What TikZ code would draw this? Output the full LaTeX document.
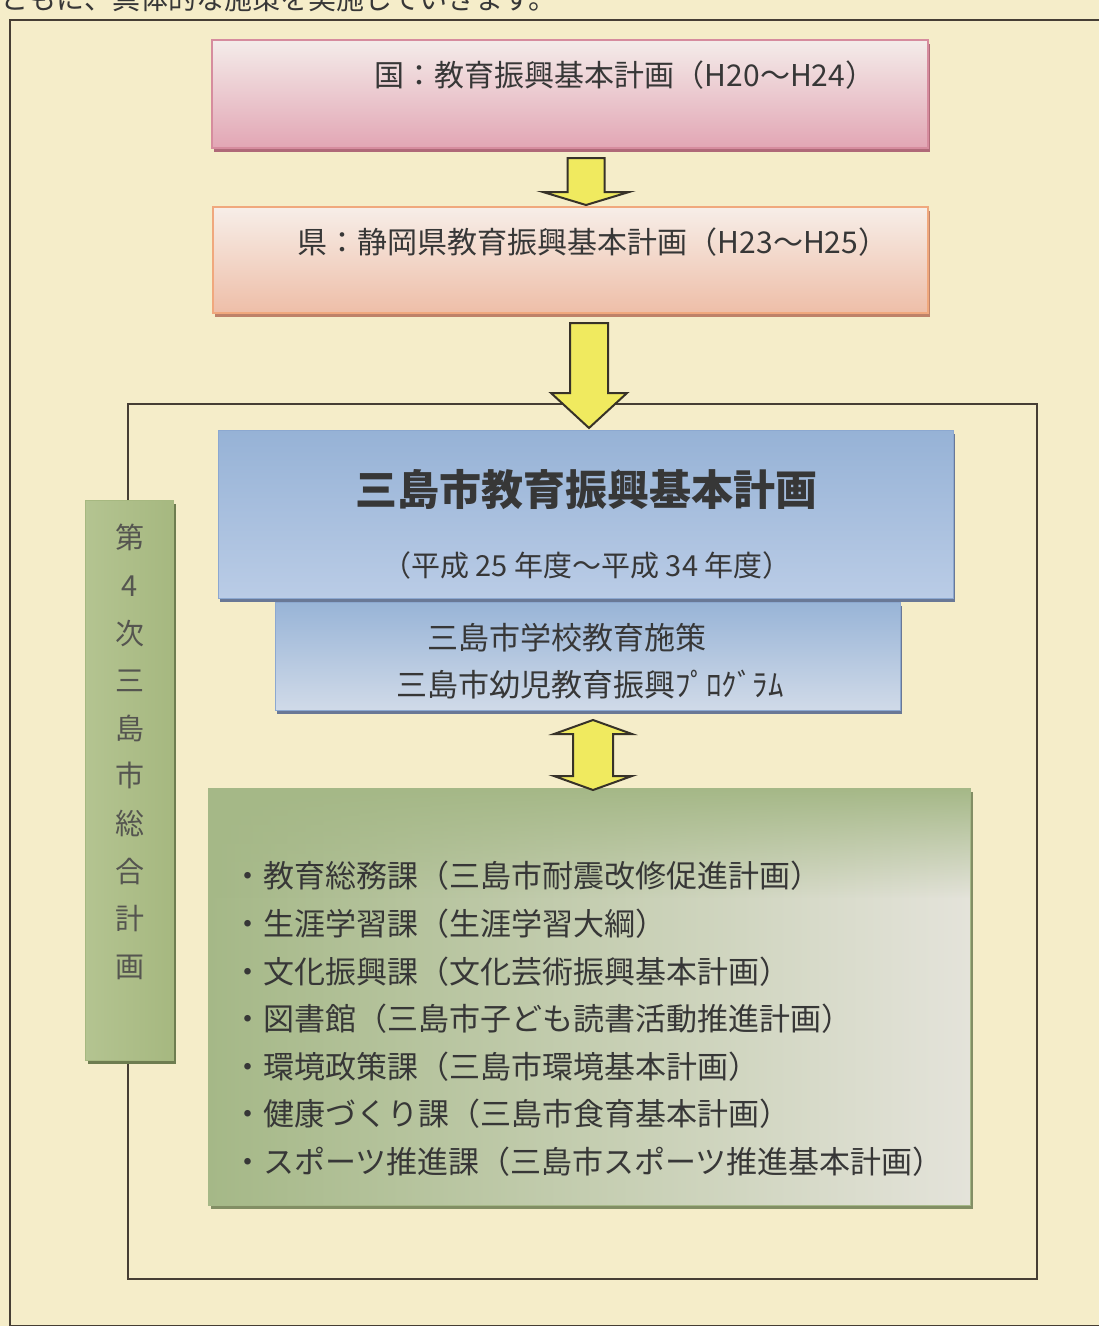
\documentclass[tikz,border=0pt]{standalone}
\usepackage{fontspec}
\setmainfont{Noto Sans CJK JP}
\usetikzlibrary{calc,fadings,shadows}

\definecolor{bg}{RGB}{245,237,201}
\definecolor{framec}{RGB}{70,62,52}
\definecolor{txt}{RGB}{55,55,55}
\definecolor{vtxt}{RGB}{85,85,80}
\definecolor{pinkT}{RGB}{244,236,234}
\definecolor{pinkB}{RGB}{226,166,180}
\definecolor{pinkBd}{RGB}{214,140,158}
\definecolor{pinkSh}{RGB}{175,105,120}
\definecolor{peachT}{RGB}{247,238,232}
\definecolor{peachB}{RGB}{238,190,168}
\definecolor{peachBd}{RGB}{240,168,125}
\definecolor{peachSh}{RGB}{190,130,105}
\definecolor{blueT}{RGB}{150,178,214}
\definecolor{blueM}{RGB}{226,231,238}
\definecolor{blueB}{RGB}{186,204,230}
\definecolor{blueBd}{RGB}{140,168,208}
\definecolor{blueSh}{RGB}{105,120,150}
\definecolor{blueTT}{RGB}{152,180,215}
\definecolor{blueBB}{RGB}{208,218,232}
\definecolor{greenV}{RGB}{166,184,128}
\definecolor{greenVL}{RGB}{180,196,145}
\definecolor{greenVSh}{RGB}{110,125,80}
\definecolor{greenL}{RGB}{165,184,135}
\definecolor{greenR}{RGB}{228,227,218}
\definecolor{greenSh}{RGB}{130,142,100}
\definecolor{arrowY}{RGB}{240,234,95}
\definecolor{arrowLn}{RGB}{55,50,40}

\tikzfading[name=fadedown, top color=transparent!0, bottom color=transparent!100]

\newcommand\mydownarrow[5]{% start, tip, half shaft, half head, head length
  \filldraw[blockarrow] ($(#1)+(-#3,0)$) -- ($(#2)+(-#3,-#5)$) -- ($(#2)+(-#4,-#5)$) -- (#2)
    -- ($(#2)+(#4,-#5)$) -- ($(#2)+(#3,-#5)$) -- ($(#1)+(#3,0)$) -- cycle;}
\newcommand\mydoublearrow[5]{% top tip, bottom tip, half shaft, half head, head length
  \filldraw[blockarrow] (#1) -- ($(#1)+(#4,#5)$) -- ($(#1)+(#3,#5)$) -- ($(#2)+(#3,-#5)$)
    -- ($(#2)+(#4,-#5)$) -- (#2) -- ($(#2)+(-#4,-#5)$) -- ($(#2)+(-#3,-#5)$)
    -- ($(#1)+(-#3,#5)$) -- ($(#1)+(-#4,#5)$) -- cycle;}

\begin{document}
\begin{tikzpicture}[x=1pt,y=-1pt,
  every node/.style={inner sep=0pt, outer sep=0pt, text=txt},
  blockarrow/.style={fill=arrowY, draw=arrowLn, line width=2pt, line join=miter},
  pinkbox/.style={draw=pinkBd, line width=1.2pt, top color=pinkT, bottom color=pinkB,
    general shadow={fill=pinkSh, shadow xshift=1.5pt, shadow yshift=-4pt}},
  peachbox/.style={draw=peachBd, line width=1.2pt, top color=peachT, bottom color=peachB,
    general shadow={fill=peachSh, shadow xshift=1.5pt, shadow yshift=-4pt}},
  bluebox/.style={draw=blueBd, line width=1pt, top color=blueT, middle color=blueM, bottom color=blueB,
    general shadow={fill=blueSh, shadow xshift=2pt, shadow yshift=-4pt}},
  bluebox2/.style={draw=blueBd, line width=1pt, top color=blueTT, bottom color=blueBB,
    general shadow={fill=blueSh, shadow xshift=2pt, shadow yshift=-4pt}},
  greenvbox/.style={draw=greenV, line width=1pt, left color=greenVL, right color=greenV,
    general shadow={fill=greenVSh, shadow xshift=3pt, shadow yshift=-4pt}},
  greenbox/.style={draw=greenL, line width=1pt, left color=greenL, right color=greenR,
    general shadow={fill=greenSh, shadow xshift=3pt, shadow yshift=-4pt}},
  frameline/.style={draw=framec}
]
\useasboundingbox (0,0) rectangle (1099,1326);
\clip (0,0) rectangle (1099,1326);
\fill[bg] (0,0) rectangle (1099,1326);

% cut-off introductory line
\node[font=\fontsize{28}{30}\selectfont, anchor=west] (intro) at (1,-1) {ともに、具体的な施策を実施していきます。};

% frames
\draw[frameline, line width=1.8pt] (10,20) rectangle (1104,1326);
\draw[frameline, line width=1.4pt] (128,404) rectangle (1037,1279);

% national and prefectural plans
\node[pinkbox, minimum width=716pt, minimum height=108pt] (kuni) at (570,94) {};
\node[peachbox, minimum width=715pt, minimum height=106pt] (ken) at (570.5,260) {};
\node[font=\fontsize{30}{32}\selectfont] (kunit) at (625,75) {国：教育振興基本計画（H20〜H24）};
\node[font=\fontsize{30}{32}\selectfont] (kent) at (593,242) {県：静岡県教育振興基本計画（H23〜H25）};

% arrows between them
\coordinate (a1s) at ($(kuni.south)+(16,10)$);
\coordinate (a1e) at ($(ken.north)+(15.5,-2)$);
\mydownarrow{a1s}{a1e}{18.5}{43}{13}
\coordinate (a2s) at ($(ken.south)+(18.5,10)$);
\coordinate (a2e) at (589,428);
\mydownarrow{a2s}{a2e}{19}{38}{35}

% city plan
\node[bluebox2, minimum width=625pt, minimum height=108pt] (sub) at (587.5,656) {};
\node[bluebox, minimum width=735pt, minimum height=168pt] (city) at (585.5,514) {};
\node[font=\fontsize{42}{44}\selectfont\bfseries] (cityt) at (586,490) {三島市教育振興基本計画};
\node[font=\fontsize{29}{31}\selectfont] (cityy) at (587,565) {（平成 25 年度〜平成 34 年度）};
\node[font=\fontsize{31}{33}\selectfont] (sub1) at (567,638) {三島市学校教育施策};
\node[font=\fontsize{31}{33}\selectfont] (sub2) at (590,685) {三島市幼児教育振興ﾌﾟﾛｸﾞﾗﾑ};

% comprehensive plan (vertical)
\node[greenvbox, minimum width=88pt, minimum height=560pt] (sogo) at (129,780) {};
\node[font=\fontsize{29}{47.6}\selectfont, align=center, text=vtxt] (sogot) at (130,752) {第\\4\\次\\三\\島\\市\\総\\合\\計\\画};

% departments
\node[greenbox, minimum width=762pt, minimum height=417pt] (dept) at (589,996.5) {};
\fill[greenL, path fading=fadedown] (dept.north west) rectangle ($(dept.north east)+(0,110)$);
\node[font=\fontsize{31}{47.6}\selectfont, align=left, anchor=west] (deptt) at (232,1019) {%
・教育総務課（三島市耐震改修促進計画）\\
・生涯学習課（生涯学習大綱）\\
・文化振興課（文化芸術振興基本計画）\\
・図書館（三島市子ども読書活動推進計画）\\
・環境政策課（三島市環境基本計画）\\
・健康づくり課（三島市食育基本計画）\\
・スポーツ推進課（三島市スポーツ推進基本計画）};

% two-way arrow
\coordinate (d1) at ($(sub.south)+(5.5,10)$);
\coordinate (d2) at ($(dept.north)+(4,2)$);
\mydoublearrow{d1}{d2}{20}{39}{14}
\end{tikzpicture}
\end{document}
